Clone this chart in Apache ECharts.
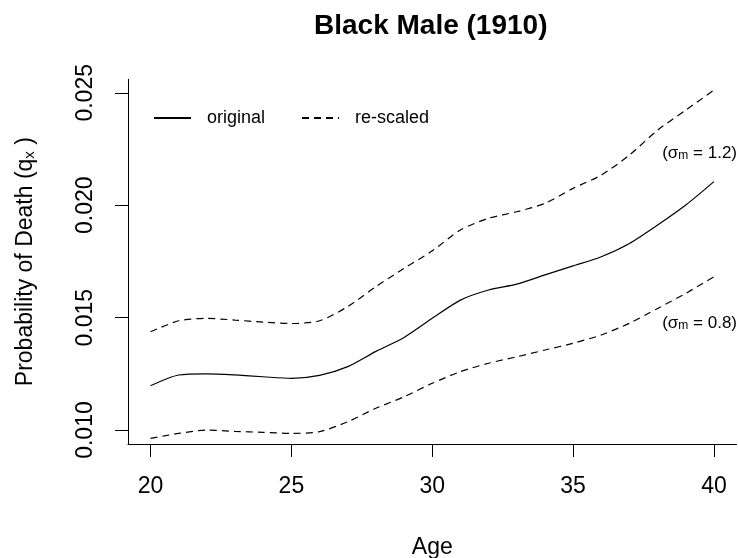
<!DOCTYPE html>
<html>
<head>
<meta charset="utf-8">
<script src="https://cdn.jsdelivr.net/npm/echarts@6/dist/echarts.min.js"></script>
<style>
html,body{margin:0;padding:0;background:#fff;}
#chart{width:738px;height:558px;}
</style>
</head>
<body>
<div id="chart"></div>
<script>
const ages = [20,21,22,23,24,25,26,27,28,29,30,31,32,33,34,35,36,37,38,39,40];
const original = [0.01197,0.01245,0.01250,0.01245,0.01237,0.01230,0.01243,0.01282,0.01350,0.01412,0.01497,0.01578,0.01623,0.01649,0.01690,0.01730,0.01771,0.01830,0.01912,0.02001,0.02105];
const rescaledHigh = [0.01437,0.01486,0.01497,0.01489,0.01480,0.01474,0.01486,0.01549,0.01638,0.01719,0.01797,0.01890,0.01942,0.01971,0.02008,0.02075,0.02134,0.02223,0.02334,0.02423,0.02512];
const rescaledLow = [0.00963,0.00985,0.01000,0.00994,0.00990,0.00985,0.00993,0.01037,0.01097,0.01148,0.01208,0.01260,0.01297,0.01326,0.01356,0.01386,0.01423,0.01475,0.01541,0.01608,0.01682];
const xTicks = [20,25,30,35,40];
const yTicks = [0.010,0.015,0.020,0.025];
const titleText = 'Black Male (1910)';
const highLabel = '1.2';
const lowLabel = '0.8';

const FONT = '"Liberation Sans", Arial, sans-serif';
const pair = (ys) => ages.map((a, i) => [a, ys[i]]);
const dash = [7, 5];

const chart = echarts.init(document.getElementById('chart'), null, {renderer: 'canvas'});
chart.setOption({
  animation: false,
  backgroundColor: '#fff',
  textStyle: {fontFamily: FONT, color: '#000'},
  title: {
    text: titleText,
    left: 314,
    top: 12,
    padding: 0,
    textStyle: {fontFamily: FONT, fontSize: 28, fontWeight: 'bold', color: '#000'}
  },
  legend: {
    left: 148,
    top: 104,
    itemWidth: 37,
    itemHeight: 14,
    itemGap: 36,
    data: ['original', 're-scaled'],
    itemStyle: {color: 'transparent', borderColor: 'transparent', borderWidth: 0, opacity: 0},
    textStyle: {fontFamily: FONT, fontSize: 18, color: '#000', padding: [0, 0, 0, 11]}
  },
  grid: {left: 128, right: 1.5, top: 79.3, bottom: 114, containLabel: false, outerBoundsMode: 'none'},
  xAxis: {
    type: 'value',
    min: 19.2,
    max: 40.8,
    name: 'Age',
    nameLocation: 'middle',
    nameGap: 92,
    nameTextStyle: {fontFamily: FONT, fontSize: 23, color: '#000'},
    axisLine: {show: true, onZero: false, lineStyle: {color: '#000', width: 1}},
    axisTick: {show: true, inside: false, length: 13, customValues: xTicks, lineStyle: {color: '#000', width: 1}},
    axisLabel: {show: true, customValues: xTicks, margin: 31, fontFamily: FONT, fontSize: 23, color: '#000'},
    splitLine: {show: false}
  },
  yAxis: {
    type: 'value',
    min: 0.00938,
    max: 0.02560,
    name: 'Probability of Death (q{sub|x} )',
    nameLocation: 'middle',
    nameRotate: 90,
    nameGap: 91,
    nameTextStyle: {
      fontFamily: FONT, fontSize: 23, color: '#000',
      rich: {sub: {fontFamily: FONT, fontSize: 15, color: '#000', verticalAlign: 'bottom'}}
    },
    axisLine: {show: true, onZero: false, lineStyle: {color: '#000', width: 1}},
    axisTick: {show: true, inside: false, length: 13, customValues: yTicks, lineStyle: {color: '#000', width: 1}},
    axisLabel: {
      show: true, customValues: yTicks, rotate: 90, margin: 31,
      fontFamily: FONT, fontSize: 23, color: '#000',
      formatter: (v) => v.toFixed(3)
    },
    splitLine: {show: false}
  },
  series: [
    {name: 'original', type: 'line', data: pair(original), symbol: 'none', smooth: 0.25,
     lineStyle: {color: '#000', width: 1.2, type: 'solid'}, itemStyle: {color: '#000'}},
    {name: 're-scaled', type: 'line', data: pair(rescaledHigh), symbol: 'none', smooth: 0.25,
     lineStyle: {color: '#000', width: 1.2, type: dash}, itemStyle: {color: '#000'}},
    {name: 're-scaled', type: 'line', data: pair(rescaledLow), symbol: 'none', smooth: 0.25,
     lineStyle: {color: '#000', width: 1.2, type: dash}, itemStyle: {color: '#000'}}
  ],
  graphic: [
    {type: 'text', right: 1, top: 145, style: {
      text: '(σ{s|m} = ' + highLabel + ')', fill: '#000', font: '17px ' + FONT,
      rich: {s: {fontSize: 12, fontFamily: FONT, fill: '#000', verticalAlign: 'bottom'}}
    }},
    {type: 'text', right: 1, top: 315, style: {
      text: '(σ{s|m} = ' + lowLabel + ')', fill: '#000', font: '17px ' + FONT,
      rich: {s: {fontSize: 12, fontFamily: FONT, fill: '#000', verticalAlign: 'bottom'}}
    }}
  ]
});
</script>
</body>
</html>
